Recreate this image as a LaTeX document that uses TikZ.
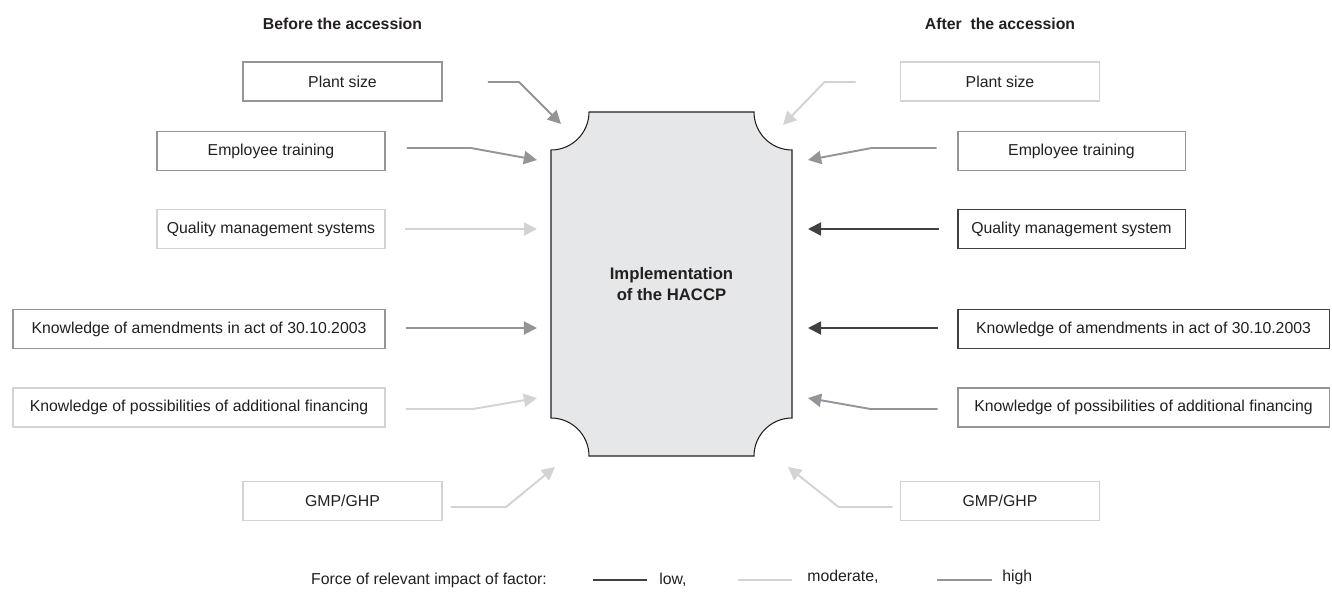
\documentclass[tikz,border=0pt]{standalone}
\usepackage{fontspec}
\setmainfont{Liberation Sans}
\usetikzlibrary{arrows.meta,calc}
\definecolor{lowc}{HTML}{414042}
\definecolor{modc}{HTML}{D1D3D4}
\definecolor{highc}{HTML}{939598}
\definecolor{ink}{HTML}{231F20}
\definecolor{haccpFill}{HTML}{E6E7E8}

\begin{document}
\begin{tikzpicture}[x=0.02cm,y=-0.02cm,font=\fontsize{9}{11}\selectfont,text=ink,
  >={Triangle[length=7.5pt,width=7.5pt]},
  factor/.style={draw,line width=1.1pt,minimum height=0.78cm,inner sep=2pt},
  lowbox/.style={factor,draw=lowc},
  modbox/.style={factor,draw=modc},
  highbox/.style={factor,draw=highc},
  lowarr/.style={->,lowc,line width=1.1pt},
  modarr/.style={->,modc,line width=1.1pt},
  higharr/.style={->,highc,line width=1.1pt},
  heading/.style={font=\fontsize{9}{11}\selectfont\bfseries}]
\useasboundingbox (0,0) rectangle (1332,592);
% central shape with concave corners
\filldraw[fill=haccpFill,draw=ink,line width=0.6pt]
  (589,112) -- (754,112) arc[start angle=180,end angle=270,radius=0.76cm]
  -- (792,418) arc[start angle=90,end angle=180,radius=0.76cm]
  -- (589,456) arc[start angle=0,end angle=90,radius=0.76cm]
  -- (551,150) arc[start angle=270,end angle=360,radius=0.76cm] -- cycle;
\node[font=\fontsize{9.5}{11.5}\selectfont\bfseries,align=center,minimum width=4.82cm,minimum height=6.88cm] (impl) at (671.5,284) {Implementation\\of the HACCP};
% before the accession
\node[heading] (tbefore) at (342.5,24) {Before the accession};
\node[highbox,minimum width=3.98cm] (lps) at (342.5,81.5) {Plant size};
\node[highbox,minimum width=4.56cm] (let) at (271,151) {Employee training};
\node[modbox,minimum width=4.56cm] (lqm) at (271,229) {Quality management systems};
\node[highbox,minimum width=7.44cm] (lka) at (199,329) {Knowledge of amendments in act of 30.10.2003};
\node[modbox,minimum width=7.44cm] (lkf) at (199,407.5) {Knowledge of possibilities of additional financing};
\node[modbox,minimum width=3.98cm] (lgm) at (342.5,501) {GMP/GHP};
% after the accession
\node[heading] (tafter) at (1000,24) {After~ the accession};
\node[modbox,minimum width=3.98cm] (rps) at (1000,81.5) {Plant size};
\node[highbox,minimum width=4.56cm] (ret) at (1071.5,151) {Employee training};
\node[lowbox,minimum width=4.56cm] (rqm) at (1071.5,229) {Quality management system};
\node[lowbox,minimum width=7.44cm] (rka) at (1143.5,329) {Knowledge of amendments in act of 30.10.2003};
\node[highbox,minimum width=7.44cm] (rkf) at (1143.5,407.5) {Knowledge of possibilities of additional financing};
\node[modbox,minimum width=3.98cm] (rgm) at (1000,501) {GMP/GHP};
% arrow tips around the central shape
\coordinate (tlps) at (561,124);
\coordinate (tlet) at (537,160);
\coordinate (tlqm) at (537,229);
\coordinate (tlka) at (537,328);
\coordinate (tlkf) at (537,398);
\coordinate (tlgm) at (555,467);
\coordinate (trps) at (783,125);
\coordinate (tret) at (808,160);
\coordinate (trqm) at (808,229);
\coordinate (trka) at (808,328);
\coordinate (trkf) at (808,398);
\coordinate (trgm) at (788,467);
% arrows
\draw[higharr] ($(lps.east)+(45,0.5)$) -- ++(31,0) -- (tlps);
\draw[higharr] ($(let.east)+(21,-3)$) -- ++(64,0) -- (tlet);
\draw[modarr]  ($(lqm.east)+(19,0)$) -- (tlqm);
\draw[higharr] ($(lka.east)+(20,-1)$) -- (tlka);
\draw[modarr]  ($(lkf.east)+(20,1.5)$) -- ++(67,0) -- (tlkf);
\draw[modarr]  ($(lgm.east)+(8,6)$) -- ++(55,0) -- (tlgm);
\draw[modarr]  ($(rps.west)+(-44,0.5)$) -- ++(-31,0) -- (trps);
\draw[higharr] ($(ret.west)+(-20,-3)$) -- ++(-65,0) -- (tret);
\draw[lowarr]  ($(rqm.west)+(-18,0)$) -- (trqm);
\draw[lowarr]  ($(rka.west)+(-19,-1)$) -- (trka);
\draw[higharr] ($(rkf.west)+(-19,1.5)$) -- ++(-67,0) -- (trkf);
\draw[modarr]  ($(rgm.west)+(-7,6)$) -- ++(-54,0) -- (trgm);
% legend
\node (lgtitle) at (429,580) {Force of relevant impact of factor:};
\node[anchor=west,inner sep=0pt] (lglow) at (659,580) {low,};
\node[anchor=west,inner sep=0pt] (lgmod) at (807,577) {moderate,};
\node[anchor=west,inner sep=0pt] (lghigh) at (1002,577) {high};
\draw[lowc,line width=1.1pt] ($(lglow.west)+(-66,0)$) -- ++(54,0);
\draw[modc,line width=1.1pt] ($(lgmod.west)+(-69,3)$) -- ++(54,0);
\draw[highc,line width=1.1pt] ($(lghigh.west)+(-65,3)$) -- ++(55,0);
\end{tikzpicture}
\end{document}
